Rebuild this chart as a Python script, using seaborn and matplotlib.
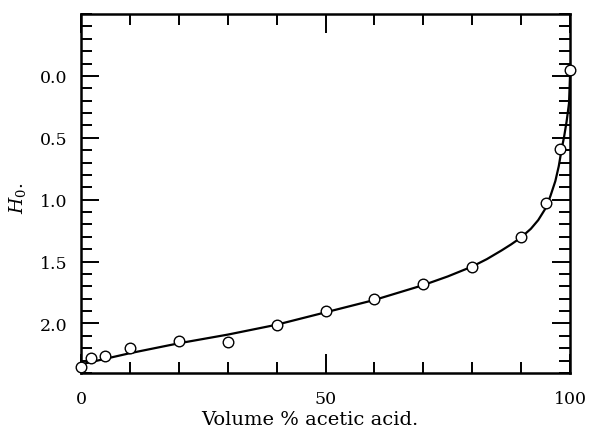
import numpy as np
import pandas as pd
import matplotlib
matplotlib.use("Agg")
import matplotlib.pyplot as plt
import seaborn as sns
from matplotlib.ticker import MultipleLocator, FixedLocator

# Measured points
acid_pct = [0, 2, 5, 10, 20, 30, 40, 50, 60, 70, 80, 90, 95, 98, 100]
h0_vals = [2.35, 2.28, 2.26, 2.20, 2.14, 2.15, 2.01, 1.90, 1.80, 1.68, 1.54, 1.30, 1.03, 0.59, -0.05]

# Smooth drawn curve
curve_x = [0, 10, 20, 30, 40, 50, 55, 60, 65, 70, 75, 80, 83, 86, 88, 90, 92, 93.5,
           95, 96, 97, 97.7, 98.3, 98.8, 99.3, 99.8, 100]
curve_y = [2.33, 2.24, 2.16, 2.09, 2.01, 1.91, 1.86, 1.81, 1.75, 1.69, 1.62, 1.54, 1.48,
           1.41, 1.36, 1.305, 1.235, 1.165, 1.07, 0.97, 0.85, 0.73, 0.59, 0.49, 0.37, 0.22, 0.0]

x_tick_labels = ["0", "50", "100"]
y_tick_labels = ["0.0", "0.5", "1.0", "1.5", "2.0"]

sns.set_theme(style="ticks")
plt.rcParams["font.family"] = ["DejaVu Serif"]
plt.rcParams["mathtext.fontset"] = "dejavuserif"

fig = plt.figure(figsize=(5.9, 4.35), dpi=100)
ax = fig.add_axes([81/590, 1-374/435, (570-81)/590, (374-15)/435])

pts = pd.DataFrame({"x": acid_pct, "y": h0_vals})
crv = pd.DataFrame({"x": curve_x, "y": curve_y})

sns.lineplot(data=crv, x="x", y="y", ax=ax, color="black", linewidth=1.6,
             sort=False, estimator=None, clip_on=False, zorder=3)
for ln in ax.lines:
    ln.set_solid_joinstyle("round")
sns.scatterplot(data=pts, x="x", y="y", ax=ax, s=58, facecolor="white",
                edgecolor="black", linewidth=1.0, zorder=4, clip_on=False)

ax.set_xlim(0, 100)
ax.set_ylim(2.4, -0.5)

ax.xaxis.set_major_locator(FixedLocator([0, 50, 100]))
ax.set_xticklabels(x_tick_labels)
ax.xaxis.set_minor_locator(MultipleLocator(10))
ax.yaxis.set_major_locator(FixedLocator([0.0, 0.5, 1.0, 1.5, 2.0]))
ax.set_yticklabels(y_tick_labels)
ax.yaxis.set_minor_locator(MultipleLocator(0.1))

ax.tick_params(which="both", direction="in", top=True, right=True, color="black",
               width=1.4, labelsize=12.5, labelcolor="black")
ax.tick_params(axis="x", which="major", length=14, pad=12)
ax.tick_params(axis="x", which="minor", length=8)
ax.tick_params(axis="y", which="major", length=13, pad=10)
ax.tick_params(axis="y", which="minor", length=8)

for sp in ax.spines.values():
    sp.set_linewidth(1.8)
    sp.set_color("black")
    sp.set_visible(True)

ax.set_xlabel("Volume % acetic acid.", fontsize=14, color="black")
ax.xaxis.set_label_coords((310-81)/(570-81), -(420-374)/(374-15), transform=ax.transAxes)
ax.set_ylabel(r"$H_0$.", fontsize=13.5, color="black")
ax.yaxis.set_label_coords(-(81-17)/(570-81), (374-198)/(374-15), transform=ax.transAxes)
ax.xaxis.label.set_va("center")
ax.yaxis.label.set_va("center")

ax.set_facecolor("white")
fig.patch.set_facecolor("white")
fig.savefig("out.png", dpi=100, facecolor="white")
